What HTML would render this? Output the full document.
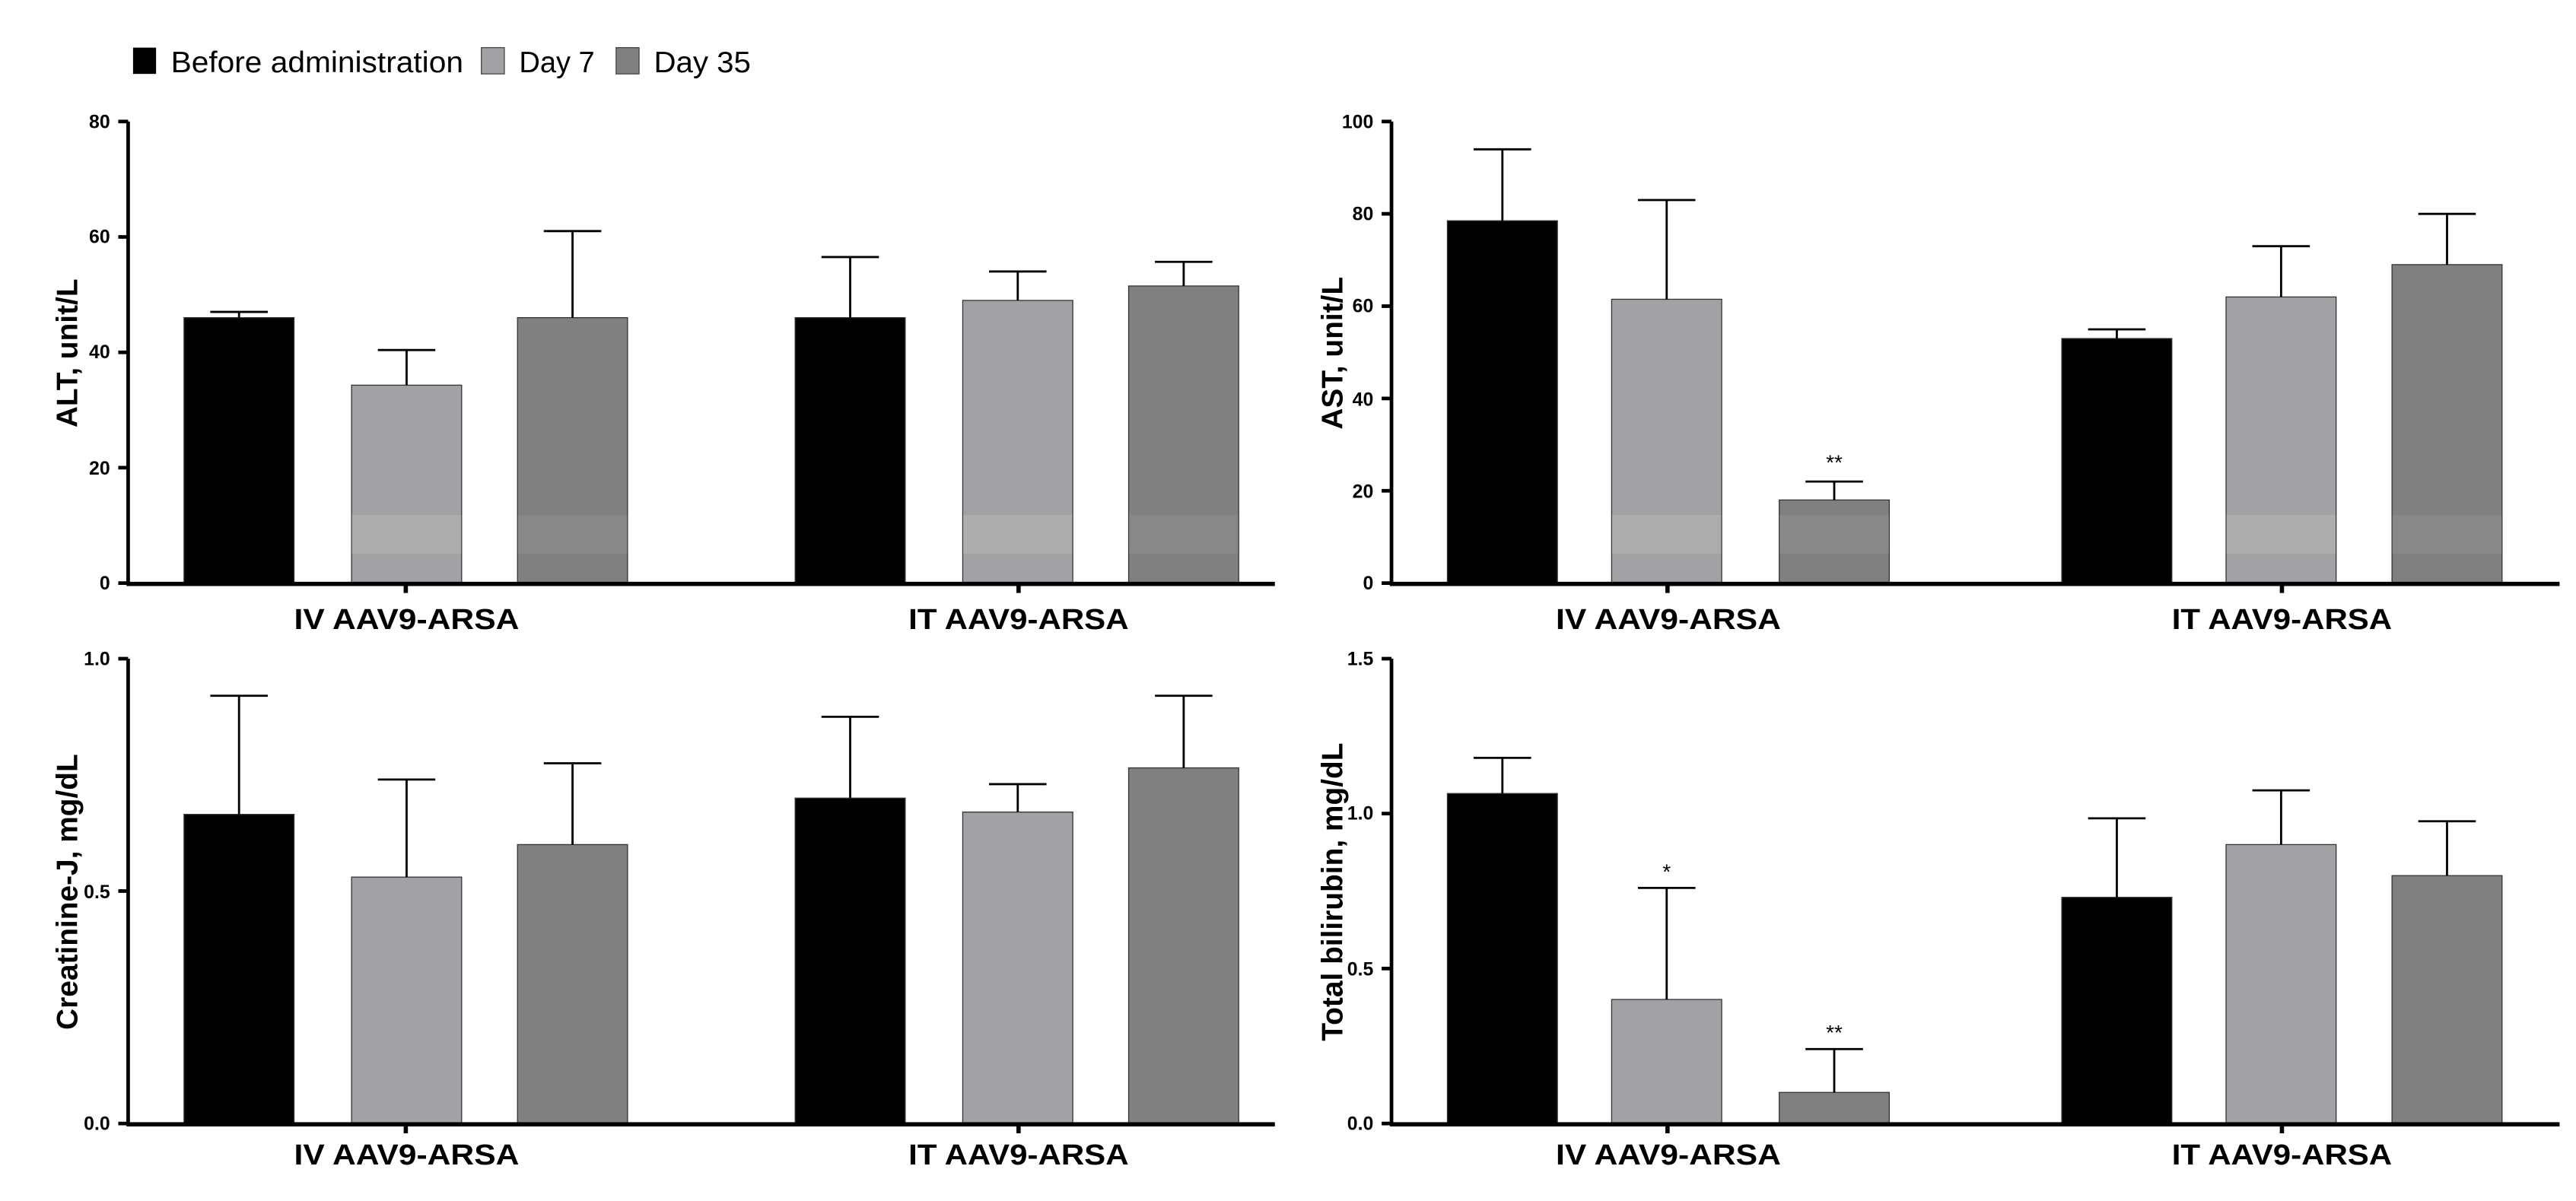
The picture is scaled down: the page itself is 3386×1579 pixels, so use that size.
<!DOCTYPE html>
<html><head><meta charset="utf-8"><style>
html,body{margin:0;padding:0;background:#fff}
svg{display:block}
text{font-family:"Liberation Sans",Arial,sans-serif;font-weight:bold;fill:#000}
.tk{font-size:11.5px}
.cat{font-size:17.5px}
.yl{font-size:18px}
.bar{stroke:#333;stroke-width:0.6}
.ax{stroke:#000;stroke-width:2.2;fill:none}
.eb{stroke:#000;stroke-width:1.3;fill:none}
.b1{fill:#000}.b2{fill:#a2a1a6}.b3{fill:#808080}
</style></head><body>
<svg width="3386" height="1579" viewBox="0 0 1568 731.2" preserveAspectRatio="none" xmlns="http://www.w3.org/2000/svg">
<!-- Legend -->
<rect x="81" y="29" width="14" height="16" fill="#000"/>
<text x="104" y="44" style="font-weight:normal;font-size:18px" textLength="178" lengthAdjust="spacingAndGlyphs">Before administration</text>
<rect x="293" y="29" width="14" height="16" fill="#a2a1a6" stroke="#444" stroke-width="0.6"/>
<text x="316" y="44" style="font-weight:normal;font-size:18px" textLength="46" lengthAdjust="spacingAndGlyphs">Day 7</text>
<rect x="375" y="29" width="14" height="16" fill="#808080" stroke="#444" stroke-width="0.6"/>
<text x="398" y="44" style="font-weight:normal;font-size:18px" textLength="59" lengthAdjust="spacingAndGlyphs">Day 35</text>

<!-- ===== Panel TL: ALT ===== -->
<g>
<rect class="bar b1" x="112" y="193.4" width="67" height="161.6"/>
<rect class="bar b2" x="214" y="234.5" width="67" height="120.5"/>
<rect class="bar b3" x="315" y="193.4" width="67" height="161.6"/>
<rect class="bar b1" x="484" y="193.4" width="67" height="161.6"/>
<rect class="bar b2" x="586" y="182.9" width="67" height="172.1"/>
<rect class="bar b3" x="687" y="174.1" width="67" height="180.9"/>
<rect x="214.3" y="313.5" width="66.4" height="23.5" fill="#adadad"/>
<rect x="315.3" y="313.5" width="66.4" height="23.5" fill="#888"/>
<rect x="586.3" y="313.5" width="66.4" height="23.5" fill="#adadad"/>
<rect x="687.3" y="313.5" width="66.4" height="23.5" fill="#888"/>
<path class="eb" d="M145.5 193.4V189.9M128 189.9H163 M247.5 234.5V213.1M230 213.1H265 M348.5 193.4V140.7M331 140.7H366 M517.5 193.4V156.5M500 156.5H535 M619.5 182.9V165.3M602 165.3H637 M720.5 174.1V159.4M703 159.4H738"/>
<path class="ax" d="M78 74V355.5M72 74H78M72 144.25H78M72 214.5H78M72 284.75H78M72 355H78"/>
<path class="ax" d="M77 355.5H776M247 355.5V361M620 355.5V361" style="stroke-width:2.6"/>
<text class="tk" x="67" y="78" text-anchor="end">80</text>
<text class="tk" x="67" y="148" text-anchor="end">60</text>
<text class="tk" x="67" y="218" text-anchor="end">40</text>
<text class="tk" x="67" y="289" text-anchor="end">20</text>
<text class="tk" x="67" y="359" text-anchor="end">0</text>
<text class="cat" x="179" y="383" textLength="137" lengthAdjust="spacingAndGlyphs">IV AAV9-ARSA</text>
<text class="cat" x="553" y="383" textLength="134" lengthAdjust="spacingAndGlyphs">IT AAV9-ARSA</text>
<text class="yl" transform="translate(47,215) rotate(-90)" text-anchor="middle">ALT, unit/L</text>
</g>

<!-- ===== Panel TR: AST ===== -->
<g>
<rect class="bar b1" x="881" y="134.4" width="67" height="220.6"/>
<rect class="bar b2" x="981" y="182.2" width="67" height="172.8"/>
<rect class="bar b3" x="1083" y="304.4" width="67" height="50.6"/>
<rect class="bar b1" x="1255" y="206.1" width="67" height="148.9"/>
<rect class="bar b2" x="1355" y="180.8" width="67" height="174.2"/>
<rect class="bar b3" x="1456" y="161.1" width="67" height="193.9"/>
<rect x="981.3" y="313.5" width="66.4" height="23.5" fill="#adadad"/>
<rect x="1083.3" y="313.5" width="66.4" height="23.5" fill="#888"/>
<rect x="1355.3" y="313.5" width="66.4" height="23.5" fill="#adadad"/>
<rect x="1456.3" y="313.5" width="66.4" height="23.5" fill="#888"/>
<path class="eb" d="M914.5 134.4V90.9M897 90.9H932 M1014.5 182.2V121.8M997 121.8H1032 M1116.5 304.4V293.2M1099 293.2H1134 M1288.5 206.1V200.5M1271 200.5H1306 M1388.5 180.8V149.9M1371 149.9H1406 M1489.5 161.1V130.2M1472 130.2H1507"/>
<text x="1116.5" y="286" text-anchor="middle" style="font-weight:normal;font-size:13px">**</text>
<path class="ax" d="M847 74V355.5M841 74H847M841 130.2H847M841 186.4H847M841 242.6H847M841 298.8H847M841 355H847"/>
<path class="ax" d="M846 355.5H1558M1015 355.5V361M1389 355.5V361" style="stroke-width:2.6"/>
<text class="tk" x="836" y="78" text-anchor="end">100</text>
<text class="tk" x="836" y="134" text-anchor="end">80</text>
<text class="tk" x="836" y="190" text-anchor="end">60</text>
<text class="tk" x="836" y="247" text-anchor="end">40</text>
<text class="tk" x="836" y="303" text-anchor="end">20</text>
<text class="tk" x="836" y="359" text-anchor="end">0</text>
<text class="cat" x="947" y="383" textLength="137" lengthAdjust="spacingAndGlyphs">IV AAV9-ARSA</text>
<text class="cat" x="1322" y="383" textLength="134" lengthAdjust="spacingAndGlyphs">IT AAV9-ARSA</text>
<text class="yl" transform="translate(817,215) rotate(-90)" text-anchor="middle">AST, unit/L</text>
</g>

<!-- ===== Panel BL: Creatinine ===== -->
<g>
<rect class="bar b1" x="112" y="495.8" width="67" height="188.2"/>
<rect class="bar b2" x="214" y="534.0" width="67" height="150"/>
<rect class="bar b3" x="315" y="514.2" width="67" height="169.8"/>
<rect class="bar b1" x="484" y="485.9" width="67" height="198.1"/>
<rect class="bar b2" x="586" y="494.4" width="67" height="189.6"/>
<rect class="bar b3" x="687" y="467.5" width="67" height="216.5"/>
<path class="eb" d="M145.5 495.8V423.6M128 423.6H163 M247.5 534V474.6M230 474.6H265 M348.5 514.2V464.7M331 464.7H366 M517.5 485.9V436.4M500 436.4H535 M619.5 494.4V477.4M602 477.4H637 M720.5 467.5V423.6M703 423.6H738"/>
<path class="ax" d="M78 401V684.5M72 401H78M72 542.5H78M72 684H78"/>
<path class="ax" d="M77 684.5H776M247 684.5V690M620 684.5V690" style="stroke-width:2.6"/>
<text class="tk" x="67" y="405" text-anchor="end">1.0</text>
<text class="tk" x="67" y="547" text-anchor="end">0.5</text>
<text class="tk" x="67" y="688" text-anchor="end">0.0</text>
<text class="cat" x="179" y="709" textLength="137" lengthAdjust="spacingAndGlyphs">IV AAV9-ARSA</text>
<text class="cat" x="553" y="709" textLength="134" lengthAdjust="spacingAndGlyphs">IT AAV9-ARSA</text>
<text class="yl" transform="translate(47,543) rotate(-90)" text-anchor="middle">Creatinine-J, mg/dL</text>
</g>

<!-- ===== Panel BR: Bilirubin ===== -->
<g>
<rect class="bar b1" x="881" y="483.1" width="67" height="200.9"/>
<rect class="bar b2" x="981" y="608.5" width="67" height="75.5"/>
<rect class="bar b3" x="1083" y="665.1" width="67" height="18.9"/>
<rect class="bar b1" x="1255" y="546.3" width="67" height="137.7"/>
<rect class="bar b2" x="1355" y="514.2" width="67" height="169.8"/>
<rect class="bar b3" x="1456" y="533.1" width="67" height="150.9"/>
<path class="eb" d="M914.5 483.1V461.4M897 461.4H932 M1014.5 608.5V540.6M997 540.6H1032 M1116.5 665.1V638.7M1099 638.7H1134 M1288.5 546.3V498.2M1271 498.2H1306 M1388.5 514.2V481.2M1371 481.2H1406 M1489.5 533.1V500M1472 500H1507"/>
<text x="1014.5" y="535" text-anchor="middle" style="font-weight:normal;font-size:13px">*</text>
<text x="1116.5" y="633" text-anchor="middle" style="font-weight:normal;font-size:13px">**</text>
<path class="ax" d="M847 401V684.5M841 401H847M841 495.3H847M841 589.7H847M841 684H847"/>
<path class="ax" d="M846 684.5H1558M1015 684.5V690M1389 684.5V690" style="stroke-width:2.6"/>
<text class="tk" x="836" y="405" text-anchor="end">1.5</text>
<text class="tk" x="836" y="499" text-anchor="end">1.0</text>
<text class="tk" x="836" y="594" text-anchor="end">0.5</text>
<text class="tk" x="836" y="688" text-anchor="end">0.0</text>
<text class="cat" x="947" y="709" textLength="137" lengthAdjust="spacingAndGlyphs">IV AAV9-ARSA</text>
<text class="cat" x="1322" y="709" textLength="134" lengthAdjust="spacingAndGlyphs">IT AAV9-ARSA</text>
<text class="yl" transform="translate(817,543) rotate(-90)" text-anchor="middle">Total bilirubin, mg/dL</text>
</g>
</svg>
</body></html>
